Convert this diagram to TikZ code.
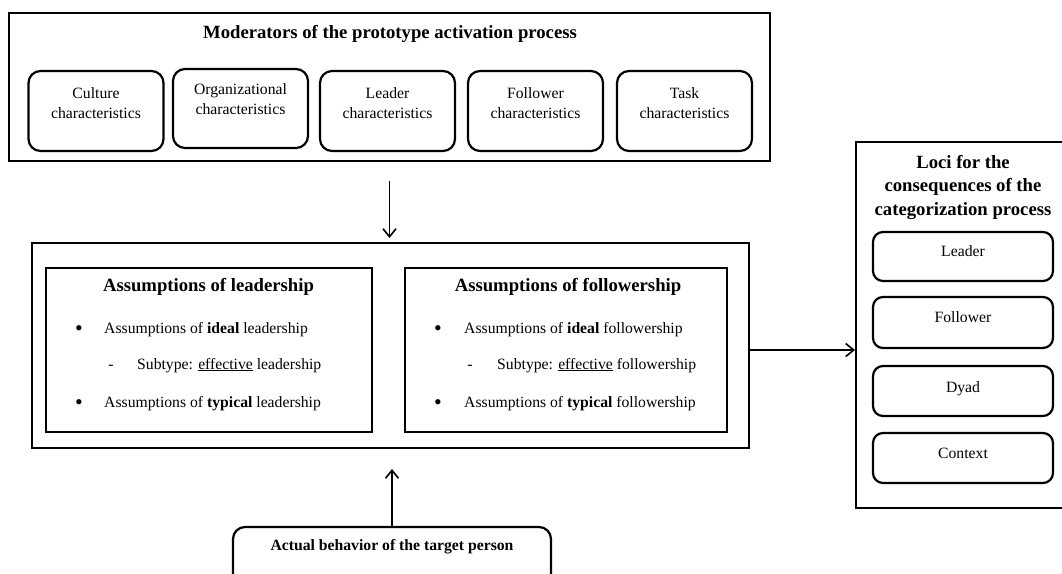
\documentclass[tikz,border=0pt]{standalone}
\usepackage{fontspec}
\setmainfont{Liberation Serif}
\usetikzlibrary{arrows.meta}
\begin{document}
\begin{tikzpicture}[x=1pt,y=-1pt,
  frame/.style={draw, line width=2pt, rectangle, inner sep=0pt},
  rbox/.style={draw, line width=2.2pt, rectangle, rounded corners=12pt, inner sep=0pt},
  sbox/.style={draw, line width=2.2pt, rectangle, rounded corners=10pt, inner sep=0pt, minimum width=180pt, minimum height=50pt},
  mbox/.style={rbox, minimum width=135pt, minimum height=80pt},
  head/.style={font=\fontsize{18.7pt}{23.5pt}\selectfont\bfseries, inner sep=0pt, align=center},
  body/.style={font=\fontsize{15.7pt}{20pt}\selectfont, inner sep=0pt, align=center},
  item/.style={body, anchor=base west},
  bmark/.style={body, anchor=base},
  bull/.style={font=\fontsize{22pt}{22pt}\selectfont, inner sep=0pt, anchor=base},
  arr/.style={line width=1.6pt, -{Straight Barb[length=8pt,width=13pt,line width=1.6pt]}}
]
\useasboundingbox (0,0) rectangle (1062,573);

% top moderator box
\node[frame, minimum width=761pt, minimum height=148pt] (mod) at (389.5,87) {};
\node[head] (modt) at (390,34) {Moderators of the prototype activation process};

\node[mbox] (cul) at (96,111) {};
\node[body] (cult) at ([yshift=8pt]cul.center) {Culture\\characteristics};
\node[mbox, minimum height=79pt] (org) at (240.5,108.5) {};
\node[body] (orgt) at ([yshift=9pt]org.center) {Organizational\\characteristics};
\node[mbox] (ldr) at (387.5,111) {};
\node[body] (ldrt) at ([yshift=8pt]ldr.center) {Leader\\characteristics};
\node[mbox] (fol) at (535.5,111) {};
\node[body] (folt) at ([yshift=8pt]fol.center) {Follower\\characteristics};
\node[mbox] (tsk) at (684.5,111) {};
\node[body] (tskt) at ([yshift=8pt]tsk.center) {Task\\characteristics};

% middle assumptions box
\node[frame, minimum width=717pt, minimum height=205pt] (mid) at (390.5,345.5) {};
\node[frame, minimum width=326pt, minimum height=164pt] (lead) at (209,350) {};
\node[frame, minimum width=322pt, minimum height=164pt] (foll) at (566,350) {};

\node[head] (leadh) at (208.5,287) {Assumptions of leadership};
\node[bull] (lbu1) at (79,335) {•};
\node[item] (lb1) at (104,333) {Assumptions of \textbf{ideal} leadership};
\node[bmark] (lda) at (111,369) {-};
\node[item] (lsub) at (137,369) {Subtype: \underline{effective} leadership};
\node[bull] (lbu2) at (79,409) {•};
\node[item] (lb2) at (104,407) {Assumptions of \textbf{typical} leadership};

\node[head] (follh) at (568,287) {Assumptions of followership};
\node[bull] (fbu1) at (438,335) {•};
\node[item] (fb1) at (464,333) {Assumptions of \textbf{ideal} followership};
\node[bmark] (fda) at (470,369) {-};
\node[item] (fsub) at (497,369) {Subtype: \underline{effective} followership};
\node[bull] (fbu2) at (438,409) {•};
\node[item] (fb2) at (464,407) {Assumptions of \textbf{typical} followership};

% actual behaviour (bottom edge runs past the page)
\node[rbox, minimum width=318pt, minimum height=64pt] (act) at (392,559) {};
\node[body, font=\fontsize{15.7pt}{20pt}\selectfont\bfseries] (actt) at (392,547) {Actual behavior of the target person};

% loci box (right edge runs past the page)
\node[frame, minimum width=224pt, minimum height=366pt] (loci) at (968,325) {};
\node[head] (locit) at (963,187) {Loci for the\\consequences of the\\categorization process};
\node[sbox, minimum height=49pt] (sl) at (963,256.5) {};
\node[bmark] (slt) at (963,256.5) {Leader};
\node[sbox, minimum height=51pt] (sf) at (963,322.5) {};
\node[bmark] (sft) at (963,322.5) {Follower};
\node[sbox] (sd) at (963,391) {};
\node[bmark] (sdt) at (963,392.5) {Dyad};
\node[sbox] (sc) at (963,458) {};
\node[bmark] (sct) at (963,458.5) {Context};

% connectors
\draw[arr, shorten <=19pt, shorten >=4pt] (mod.south) -- (mod.south |- mid.north);
\draw[arr, shorten >=20pt] (act.north) -- (act.north |- mid.south);
\draw[arr] ([yshift=-4.5pt]mid.east) -- ([yshift=-4.5pt]mid.east -| loci.west);
\end{tikzpicture}
\end{document}
